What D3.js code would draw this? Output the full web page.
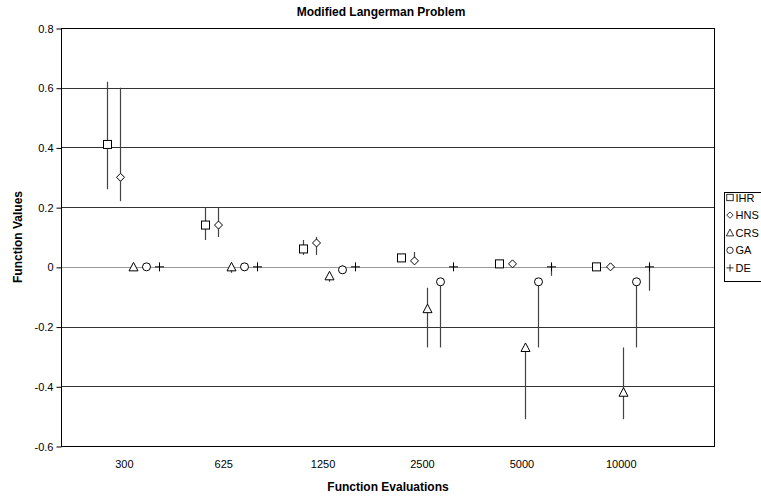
<!DOCTYPE html>
<html>
<head>
<meta charset="utf-8">
<script src="https://cdnjs.cloudflare.com/ajax/libs/d3/7.8.5/d3.min.js"></script>
<style>
    body { margin: 0; background: #fff; }
    svg { display: block; font-family: "Liberation Sans", Arial, sans-serif; }
    svg text { font-family: "Liberation Sans", Arial, sans-serif; }
</style>
</head>
<body>
<div id="chart"></div>
<script>
const categories = ["300", "625", "1250", "2500", "5000", "10000"];
const seriesNames = ["IHR", "HNS", "CRS", "GA", "DE"];
const yTicks = [0.8, 0.6, 0.4, 0.2, 0, -0.2, -0.4, -0.6];

// mean and error range per series, one entry per category
const ihrMean = [0.41, 0.14, 0.06, 0.03, 0.01, 0];
const ihrLow  = [0.26, 0.09, 0.04, 0.02, 0.005, -0.005];
const ihrHigh = [0.62, 0.20, 0.09, 0.04, 0.015, 0.005];

const hnsMean = [0.30, 0.14, 0.08, 0.02, 0.01, 0];
const hnsLow  = [0.22, 0.10, 0.04, 0.02, 0.005, -0.005];
const hnsHigh = [0.60, 0.20, 0.10, 0.05, 0.015, 0.005];

const crsMean = [0, 0, -0.03, -0.14, -0.27, -0.42];
const crsLow  = [0, -0.02, -0.05, -0.27, -0.51, -0.51];
const crsHigh = [0, 0.005, -0.02, -0.07, -0.27, -0.27];

const gaMean = [0, 0, -0.01, -0.05, -0.05, -0.05];
const gaLow  = [0, 0, -0.02, -0.27, -0.27, -0.27];
const gaHigh = [0, 0, 0.005, -0.05, -0.05, -0.05];

const deMean = [0, 0, 0, 0, 0, 0];
const deLow  = [0, 0, 0, -0.005, -0.03, -0.08];
const deHigh = [0, 0, 0, 0.005, 0.01, 0.01];

const means = [ihrMean, hnsMean, crsMean, gaMean, deMean];
const lows = [ihrLow, hnsLow, crsLow, gaLow, deLow];
const highs = [ihrHigh, hnsHigh, crsHigh, gaHigh, deHigh];

const width = 761, height = 497;
const plot = { left: 61, right: 714, top: 28, bottom: 446 };

const svg = d3.select("#chart").append("svg")
    .attr("width", width)
    .attr("height", height);

// x runs over 50 slots, each category takes 7.5 slots
const x = d3.scaleLinear().domain([0, 50]).range([plot.left, plot.right]);
const y = d3.scaleLinear().domain([-0.6, 0.8]).range([plot.bottom, plot.top]);
const xLabel = d3.scalePoint().domain(categories).range([x(4.85), x(42.9)]);

const slot = (g, s) => x(3.5 + g * 7.5 + s);

// gridlines
svg.append("g")
    .selectAll("line")
    .data(yTicks.filter(t => t !== 0.8 && t !== -0.6))
    .enter().append("line")
    .attr("x1", plot.left).attr("x2", plot.right)
    .attr("y1", d => Math.round(y(d)) + 0.5)
    .attr("y2", d => Math.round(y(d)) + 0.5)
    .attr("stroke", d => d === 0 ? "#9a9a9a" : "#333")
    .attr("stroke-width", 1);

// plot border
svg.append("rect")
    .attr("x", plot.left + 0.5).attr("y", Math.round(y(0.8)) + 0.5)
    .attr("width", plot.right - plot.left)
    .attr("height", Math.round(y(-0.6)) - Math.round(y(0.8)))
    .attr("fill", "none")
    .attr("stroke", "#000");

// y axis (plain hyphen for negatives, like the original)
const yAxis = d3.axisLeft(y).tickValues(yTicks).tickSize(5).tickPadding(3)
    .tickFormat(d => String(+d.toFixed(1)));
const yg = svg.append("g")
    .attr("transform", `translate(${plot.left + 0.5},0.5)`)
    .call(yAxis);
yg.select(".domain").remove();
yg.selectAll("text").attr("font-size", 11).attr("fill", "#000")
    .attr("font-family", "Liberation Sans, Arial, sans-serif");

// x labels
svg.append("g")
    .selectAll("text")
    .data(categories)
    .enter().append("text")
    .attr("x", d => xLabel(d))
    .attr("y", 468)
    .attr("text-anchor", "middle")
    .attr("font-size", 11)
    .text(d => d);

// error bars
seriesNames.forEach((name, s) => {
    svg.append("g")
        .selectAll("line")
        .data(categories.map((c, g) => ({ g, lo: lows[s][g], hi: highs[s][g] })))
        .enter().append("line")
        .attr("x1", d => Math.round(slot(d.g, s)) + 0.5)
        .attr("x2", d => Math.round(slot(d.g, s)) + 0.5)
        .attr("y1", d => y(d.hi))
        .attr("y2", d => y(d.lo))
        .attr("stroke", "#444")
        .attr("stroke-width", 1.2);
});

function drawMarker(sel, s) {
    if (s === 0) {
        sel.append("rect").attr("x", -4).attr("y", -4).attr("width", 8).attr("height", 8);
    } else if (s === 1) {
        sel.append("path").attr("d", "M0,-4L4,0L0,4L-4,0Z");
    } else if (s === 2) {
        sel.append("path").attr("d", "M0,-4.5L4.5,4L-4.5,4Z");
    } else if (s === 3) {
        sel.append("circle").attr("r", 4);
    } else {
        sel.append("path").attr("d", "M-4.5,0H4.5M0,-4.5V4.5");
    }
    sel.selectAll("rect,path,circle")
        .attr("fill", s === 4 ? "none" : "#fff")
        .attr("stroke", "#000")
        .attr("stroke-width", 1);
}

// markers
seriesNames.forEach((name, s) => {
    svg.append("g")
        .selectAll("g")
        .data(means[s])
        .enter().append("g")
        .attr("transform", (d, g) => `translate(${Math.round(slot(g, s)) + 0.5},${y(d)})`)
        .each(function () { drawMarker(d3.select(this), s); });
});

// titles
svg.append("text")
    .attr("x", 381).attr("y", 16)
    .attr("text-anchor", "middle")
    .attr("font-size", 12).attr("font-weight", "bold")
    .text("Modified Langerman Problem");

svg.append("text")
    .attr("x", 388).attr("y", 491)
    .attr("text-anchor", "middle")
    .attr("font-size", 12).attr("font-weight", "bold")
    .text("Function Evaluations");

svg.append("text")
    .attr("transform", `translate(22,${(plot.top + plot.bottom) / 2}) rotate(-90)`)
    .attr("text-anchor", "middle")
    .attr("font-size", 12).attr("font-weight", "bold")
    .text("Function Values");

// legend
const legend = svg.append("g").attr("transform", "translate(724.5,192.5)");
legend.append("rect")
    .attr("width", 60).attr("height", 89)
    .attr("fill", "#fff").attr("stroke", "#000");
seriesNames.forEach((name, s) => {
    const row = legend.append("g").attr("transform", `translate(0,${5 + s * 17.6})`);
    drawMarker(row.append("g").attr("transform", "translate(5.5,0) scale(0.8)"), s);
    row.append("text")
        .attr("x", 11).attr("y", 4)
        .attr("font-size", 11)
        .text(name);
});
</script>
</body>
</html>
